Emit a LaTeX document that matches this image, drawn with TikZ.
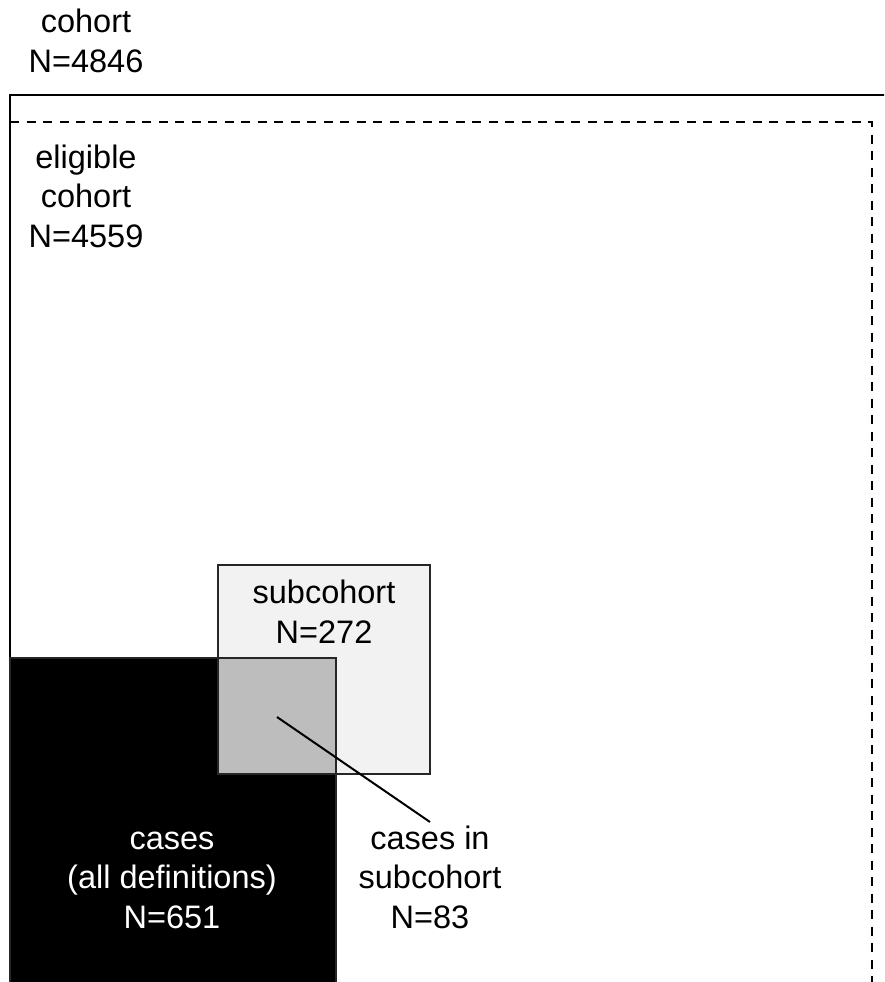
\documentclass[tikz,border=0pt]{standalone}
\usepackage{fontspec}
\setmainfont{Liberation Sans}
\begin{document}
\begin{tikzpicture}[x=1pt,y=-1pt,
  lbl/.style={align=center,anchor=base,inner sep=0pt,
    font=\fontsize{32.5}{39.5}\selectfont},
  edge/.style={draw=black!85,line width=2pt},
  cohortline/.style={draw=black,line width=2.5pt},
  eligline/.style={draw=black,line width=2.4pt,dash pattern=on 9pt off 7.5pt}]
\useasboundingbox (0,0) rectangle (884,982);
\clip (0,0) rectangle (884,982);
\fill[white] (0,0) rectangle (884,982);

% whole cohort (solid) and eligible cohort (dashed)
\draw[cohortline] (10,95) rectangle (900,1000);
\draw[eligline] (10,122) -- (872,122) -- (872,1000);

% subcohort
\draw[edge,fill=black!5] (218,565) rectangle (430,774);
% all cases
\draw[edge,fill=black] (10,658) rectangle (336,1000);
% cases that belong to the subcohort
\draw[edge,fill=black!26] (218,658) rectangle (336,774);

% labels
\node[lbl] (cohort) at (86,72) {cohort\\N=4846};
\node[lbl] (elig) at (86,247) {eligible\\cohort\\N=4559};
\node[lbl] (sub) at (324,643) {subcohort\\N=272};
\node[lbl,text=white] (cases) at (172,928) {cases\\(all definitions)\\N=651};
\node[lbl] (casesin) at (430,928) {cases in\\subcohort\\N=83};

% pointer from the overlap to its label
\coordinate (overlap) at (277,717);
\coordinate (tip) at (430,822);
\draw[black,line width=2pt] (overlap) -- (tip);
\end{tikzpicture}
\end{document}
